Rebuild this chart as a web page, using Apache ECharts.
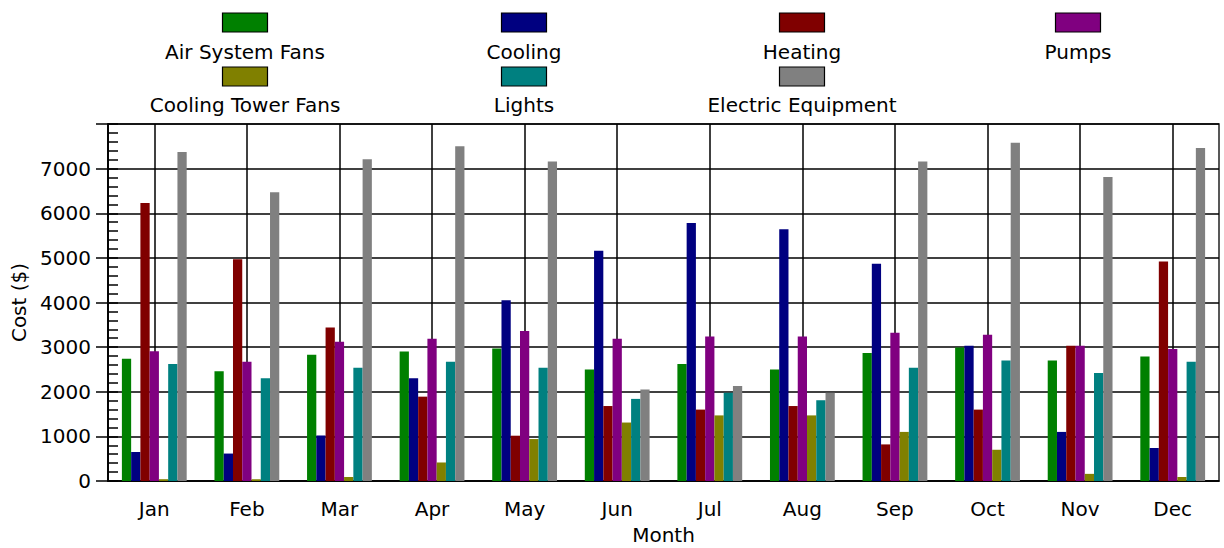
<!DOCTYPE html>
<html>
<head>
<meta charset="utf-8">
<script src="https://cdn.jsdelivr.net/npm/echarts@6/dist/echarts.min.js"></script>
<style>
  html, body { margin: 0; padding: 0; background: #ffffff; }
  #chart { width: 1224px; height: 548px; }
</style>
</head>
<body>
<div id="chart"></div>
<script>
// ---- data ----
const months = ['Jan', 'Feb', 'Mar', 'Apr', 'May', 'Jun', 'Jul', 'Aug', 'Sep', 'Oct', 'Nov', 'Dec'];
const seriesNames = ['Air System Fans', 'Cooling', 'Heating', 'Pumps', 'Cooling Tower Fans', 'Lights', 'Electric Equipment'];
const seriesColors = ['#008000', '#000080', '#800000', '#800080', '#808000', '#008080', '#808080'];
const airSystemFans = [2740, 2460, 2830, 2900, 2970, 2500, 2620, 2500, 2870, 2990, 2700, 2790];
const cooling = [650, 615, 1020, 2300, 4050, 5160, 5780, 5640, 4870, 3030, 1100, 740];
const heating = [6230, 4970, 3440, 1890, 1015, 1680, 1600, 1680, 820, 1600, 3030, 4920];
const pumps = [2910, 2670, 3120, 3190, 3360, 3190, 3240, 3240, 3320, 3280, 3030, 2960];
const coolingTowerFans = [40, 40, 90, 415, 940, 1310, 1470, 1470, 1100, 700, 160, 90];
const lights = [2620, 2300, 2540, 2670, 2540, 1840, 1980, 1810, 2540, 2700, 2420, 2670];
const electricEquipment = [7370, 6470, 7210, 7500, 7160, 2050, 2130, 1980, 7160, 7580, 6810, 7460];
const yTicks = [0, 1000, 2000, 3000, 4000, 5000, 6000, 7000];

const seriesValues = [airSystemFans, cooling, heating, pumps, coolingTowerFans, lights, electricEquipment];

const FONT = 'DejaVu Sans';
const FS = 20;

const chart = echarts.init(document.getElementById('chart'), null, { renderer: 'svg' });

// legend drawn as swatch above text (4 columns x 2 rows)
const legendCols = [245, 524, 802, 1078];
const legendRows = [{ rectY: 13, textY: 52 }, { rectY: 67, textY: 105 }];
const graphics = [];
seriesNames.forEach((name, i) => {
  const col = i % 4, row = Math.floor(i / 4);
  const cx = legendCols[col];
  graphics.push({
    type: 'rect',
    shape: { x: cx - 22.5, y: legendRows[row].rectY, width: 45, height: 19 },
    style: { fill: seriesColors[i], stroke: '#000', lineWidth: 1.2 }
  });
  graphics.push({
    type: 'text',
    x: cx, y: legendRows[row].textY,
    style: { text: name, fill: '#000', font: FS + 'px "' + FONT + '"', textAlign: 'center', textVerticalAlign: 'middle' }
  });
});

const option = {
  backgroundColor: '#ffffff',
  animation: false,
  textStyle: { fontFamily: FONT },
  grid: {
    left: 108, right: 5, top: 124, bottom: 67,
    outerBoundsMode: 'none', containLabel: false,
    show: true, borderColor: '#222', borderWidth: 1.5, backgroundColor: 'transparent'
  },
  graphic: graphics,
  xAxis: {
    type: 'category',
    data: months,
    name: 'Month',
    nameLocation: 'middle',
    nameGap: 44,
    nameTextStyle: { color: '#000', fontSize: FS, fontFamily: FONT },
    axisLine: { lineStyle: { color: '#000', width: 1.5 } },
    axisTick: { alignWithLabel: true, length: 13, lineStyle: { color: '#000', width: 1.5 } },
    axisLabel: { color: '#000', fontSize: FS, fontFamily: FONT, margin: 18 },
    splitLine: { show: true, alignWithLabel: true, lineStyle: { color: '#000', width: 1.5 } }
  },
  yAxis: [{
    type: 'value',
    min: 0, max: 8000, interval: 1000,
    name: 'Cost ($)',
    nameLocation: 'middle',
    nameGap: 76,
    nameTextStyle: { color: '#000', fontSize: FS, fontFamily: FONT },
    axisLine: { show: true, lineStyle: { color: '#000', width: 1.5 } },
    axisTick: { show: true, inside: true, length: 10, lineStyle: { color: '#000', width: 1.5 } },
    minorTick: { show: true, splitNumber: 5, length: 10, lineStyle: { color: '#000', width: 1.5 } },
    axisLabel: {
      color: '#000', fontSize: FS, fontFamily: FONT, margin: 17,
      formatter: v => (yTicks.indexOf(v) >= 0 ? String(v) : '')
    },
    splitLine: { show: true, lineStyle: { color: '#000', width: 1.5 } }
  }, {
    type: 'value',
    position: 'left',
    min: 0, max: 8000, interval: 1000,
    axisLine: { show: true, lineStyle: { color: '#000', width: 1.5 } },
    axisTick: { show: true, inside: false, length: 12, lineStyle: { color: '#000', width: 1.5 } },
    axisLabel: { show: false },
    splitLine: { show: false }
  }],
  series: seriesNames.map((name, i) => ({
    name: name,
    type: 'bar',
    data: seriesValues[i],
    barGap: '0%',
    barCategoryGap: '30%',
    itemStyle: { color: seriesColors[i] },
    z: 3
  }))
};

chart.setOption(option);
</script>
</body>
</html>
